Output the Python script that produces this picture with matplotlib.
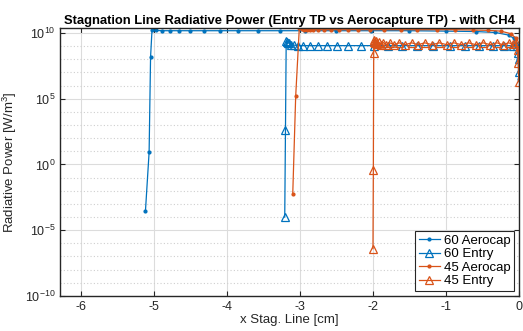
import matplotlib.pyplot as plt
from matplotlib.ticker import FixedLocator, LogFormatterMathtext

plt.rcParams['font.family'] = ['Liberation Sans', 'DejaVu Sans']
plt.rcParams['mathtext.fontset'] = 'custom'
plt.rcParams['mathtext.rm'] = 'Liberation Sans'
plt.rcParams['mathtext.it'] = 'Liberation Sans'

blue = '#0072BD'
orange = '#D95319'

# 60 deg aerocapture trajectory point
x60_aero = [-5.12, -5.07, -5.05, -5.03, -4.98, -4.89, -4.79, -4.66, -4.51, -4.32,
            -4.10, -3.85, -3.57, -3.27, -2.93, -2.51, -2.03, -1.51, -1.00, -0.59,
            -0.32, -0.14, -0.07, -0.03, -0.01, 0.0]
y60_aero = [3e-4, 8.5, 1.5e8, 1.8e10, 1.6e10, 1.5e10, 1.5e10, 1.5e10, 1.5e10, 1.5e10,
            1.5e10, 1.5e10, 1.5e10, 1.5e10, 1.5e10, 1.5e10, 1.5e10, 1.5e10, 1.4e10, 1.3e10,
            1.1e10, 7e9, 4e9, 1e9, 1e8, 3e6]

# 60 deg entry trajectory point
x60_entry = [-3.21, -3.20, -3.19, -3.18, -3.17, -3.15, -3.12, -3.08, -3.03, -2.96,
             -2.87, -2.76, -2.63, -2.49, -2.34, -2.17, -1.99, -1.80, -1.60, -1.39,
             -1.17, -0.95, -0.74, -0.54, -0.36, -0.20, -0.08, -0.02, -0.008, -0.004, 0.0]
y60_entry = [1e-4, 4e2, 2.5e9, 2.2e9, 1.6e9, 1.9e9, 1.3e9, 1.2e9, 1.1e9, 1.1e9,
             1.1e9, 1.1e9, 1.1e9, 1.1e9, 1.1e9, 1.1e9, 1.1e9, 1.1e9, 1.1e9, 1.1e9,
             1.1e9, 1.1e9, 1.1e9, 1.1e9, 1.1e9, 1.1e9, 1.1e9, 1.0e9, 3e8, 1e8, 1e7]

# 45 deg aerocapture trajectory point
x45_aero = [-3.10, -3.06, -3.01, -2.98, -2.95, -2.91, -2.87, -2.82, -2.75, -2.67,
            -2.58, -2.47, -2.34, -2.20, -2.04, -1.85, -1.62, -1.39, -1.12, -0.88,
            -0.63, -0.42, -0.25, -0.11, -0.04, -0.01, 0.0]
y45_aero = [6e-3, 1.5e5, 2.5e10, 1.9e10, 1.8e10, 1.8e10, 1.8e10, 1.8e10, 1.8e10, 1.8e10,
            1.8e10, 1.8e10, 1.8e10, 1.8e10, 1.8e10, 1.8e10, 1.8e10, 1.8e10, 1.8e10, 1.8e10,
            1.7e10, 1.6e10, 1.4e10, 9e9, 4e9, 5e8, 1e7]

# 45 deg entry trajectory point
x45_entry = [-2.00, -1.995, -1.99, -1.985, -1.98, -1.97, -1.96, -1.94, -1.92, -1.89,
             -1.86, -1.82, -1.77, -1.71, -1.64, -1.56, -1.47, -1.38, -1.29, -1.19,
             -1.09, -0.99, -0.89, -0.79, -0.69, -0.59, -0.49, -0.39, -0.30, -0.22,
             -0.14, -0.08, -0.04, -0.015, -0.006, 0.0]
y45_entry = [4e-7, 0.35, 3e8, 3e9, 2.2e9, 1.6e9, 2.4e9, 1.4e9, 2.0e9, 1.3e9,
             1.9e9, 1.3e9, 1.8e9, 1.3e9, 1.8e9, 1.3e9, 1.8e9, 1.3e9, 1.8e9, 1.3e9,
             1.8e9, 1.3e9, 1.8e9, 1.3e9, 1.8e9, 1.3e9, 1.8e9, 1.3e9, 1.8e9, 1.3e9,
             1.8e9, 1.4e9, 2.0e9, 5e8, 5e7, 2e6]

fig = plt.figure(figsize=(5.23, 3.31), dpi=100)
ax = fig.add_axes([0.115, 0.106, 0.877, 0.81])

ax.plot(x60_aero, y60_aero, '-', marker='.', markersize=4, lw=0.9, color=blue, label='60 Aerocap')
ax.plot(x60_entry, y60_entry, '-', marker='^', markersize=5.5, mfc='none', mew=0.9, lw=0.9, color=blue, label='60 Entry')
ax.plot(x45_aero, y45_aero, '-', marker='.', markersize=4, lw=0.9, color=orange, label='45 Aerocap')
ax.plot(x45_entry, y45_entry, '-', marker='^', markersize=5.5, mfc='none', mew=0.9, lw=0.9, color=orange, label='45 Entry')

ax.set_yscale('log')
ax.set_xlim(-6.29, 0.0)
ax.set_ylim(1e-10, 2.5e10)
ax.set_xticks([-6, -5, -4, -3, -2, -1, 0])
ax.set_xticklabels(['-6', '-5', '-4', '-3', '-2', '-1', '0'])
ax.yaxis.set_major_locator(FixedLocator([1e-10, 1e-5, 1e0, 1e5, 1e10]))
ax.yaxis.set_major_formatter(LogFormatterMathtext())
ax.yaxis.set_minor_locator(FixedLocator([10.0 ** k for k in range(-10, 11)]))
ax.yaxis.set_minor_formatter(plt.NullFormatter())

ax.grid(True, which='major', color='#dcdcdc', lw=0.8)
ax.grid(True, which='minor', axis='y', color='#cfcfcf', lw=0.8, ls=(0, (1, 2)))
ax.set_axisbelow(True)

ax.tick_params(which='both', direction='in', top=True, right=True, labelsize=9, colors='#262626')
ax.tick_params(which='minor', length=0)
for s in ax.spines.values():
    s.set_color('#262626')
    s.set_linewidth(1.0)

ax.set_title('Stagnation Line Radiative Power (Entry TP vs Aerocapture TP) - with CH4',
             fontsize=9.4, fontweight='bold', pad=3)
ax.set_xlabel('x Stag. Line [cm]', fontsize=9.5, color='#262626', labelpad=1)
ax.set_ylabel('Radiative Power [W/m$^3$]', fontsize=9.5, color='#262626', labelpad=4)

leg = ax.legend(loc='lower right', fontsize=9.5, fancybox=False, edgecolor='#262626',
                framealpha=1, handlelength=1.6, handletextpad=0.3, borderpad=0.25,
                labelspacing=0.1, borderaxespad=0.4)
leg.get_frame().set_linewidth(0.8)

fig.savefig('out.png', dpi=100)
